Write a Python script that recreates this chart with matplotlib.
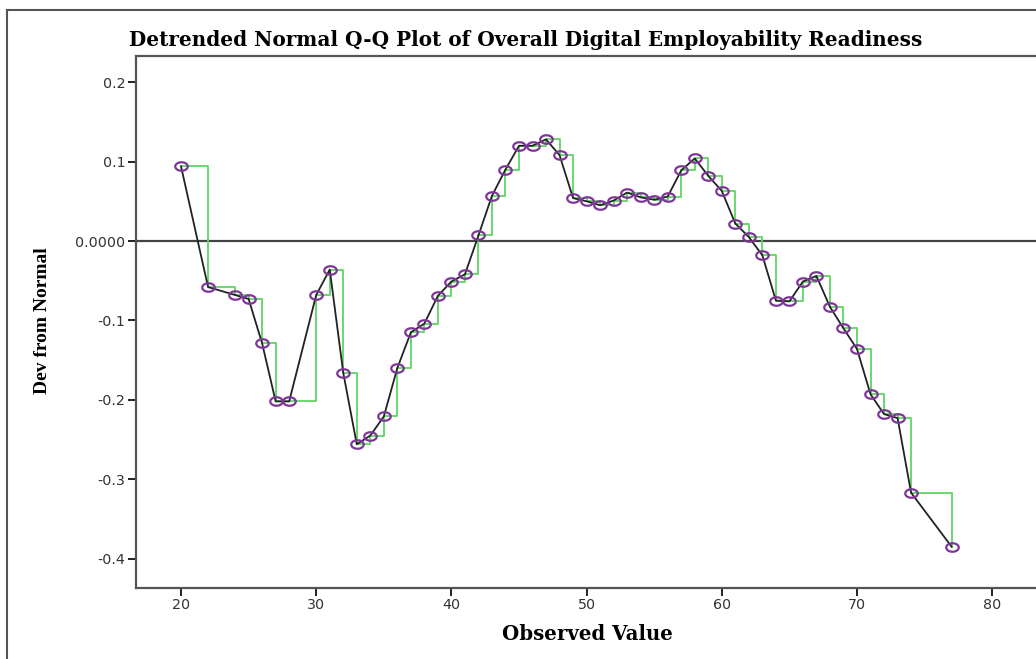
import numpy as np
import matplotlib
matplotlib.use("Agg")
import matplotlib.pyplot as plt
from matplotlib.path import Path
from matplotlib.lines import Line2D

# Observed values and their deviation from the normal expectation
observed = [20, 22, 24, 25, 26, 27, 28, 30, 31, 32, 33, 34, 35, 36, 37, 38, 39,
            40, 41, 42, 43, 44, 45, 46, 47, 48, 49, 50, 51, 52, 53, 54, 55, 56,
            57, 58, 59, 60, 61, 62, 63, 64, 65, 66, 67, 68, 69, 70, 71, 72, 73,
            74, 77]
deviation = [0.094, -0.058, -0.068, -0.073, -0.129, -0.202, -0.202, -0.068,
             -0.036, -0.166, -0.256, -0.245, -0.221, -0.160, -0.115, -0.104,
             -0.069, -0.051, -0.042, 0.007, 0.057, 0.090, 0.120, 0.120, 0.128,
             0.108, 0.054, 0.050, 0.045, 0.051, 0.061, 0.055, 0.052, 0.056,
             0.089, 0.104, 0.082, 0.063, 0.022, 0.005, -0.018, -0.075, -0.076,
             -0.051, -0.044, -0.083, -0.110, -0.136, -0.193, -0.218, -0.223,
             -0.317, -0.385]

x_ticks = [20, 30, 40, 50, 60, 70, 80]
y_ticks = [0.2, 0.1, 0.0, -0.1, -0.2, -0.3, -0.4]
y_tick_labels = ["0.2", "0.1", "0.0000", "-0.1", "-0.2", "-0.3", "-0.4"]

title = "Detrended Normal Q-Q Plot of Overall Digital Employability Readiness"
x_label = "Observed Value"
y_label = "Dev from Normal"

W, H = 1036, 659
fig = plt.figure(figsize=(W / 100, H / 100), dpi=100)
fig.patch.set_facecolor("white")

# axes box in pixel terms
left, right, top, bottom = 136, 1036, 56, 588
ax = fig.add_axes([left / W, 1 - bottom / H, (right - left) / W, (bottom - top) / H])

# open ellipse marker
t = np.linspace(0, 2 * np.pi, 40)
ellipse = Path(np.column_stack([np.cos(t), 0.68 * np.sin(t)]), closed=True)

ax.axhline(0, color="#444444", lw=1.6, zorder=1)
ax.plot(observed, deviation, drawstyle="steps-post", color="#5fd463", lw=1.3, zorder=2)
ax.plot(observed, deviation, color="#222222", lw=1.3, zorder=3)
ax.plot(observed, deviation, linestyle="none", marker=ellipse, markersize=9,
        markerfacecolor="none", markeredgecolor="#7e3598", markeredgewidth=1.6, zorder=4)

ax.set_xlim(16.67, 83.24)
ax.set_ylim(-0.437, 0.233)
ax.set_xticks(x_ticks)
ax.set_yticks(y_ticks)
ax.set_yticklabels(y_tick_labels)
ax.tick_params(direction="out", length=6, width=1.4, color="#222222",
               labelsize=10.3, labelcolor="#333333", pad=1.5)
for lab in ax.get_xticklabels() + ax.get_yticklabels():
    lab.set_family("DejaVu Sans")

for side in ("left", "bottom", "top"):
    ax.spines[side].set_color("#555555")
    ax.spines[side].set_linewidth(1.6)
ax.spines["right"].set_visible(False)

fig.text(526 / W, 1 - 40 / H, title, ha="center", va="center",
         family="DejaVu Serif", fontweight="bold", fontsize=14.4)
fig.text(587 / W, 1 - 634 / H, x_label, ha="center", va="center",
         family="DejaVu Serif", fontweight="bold", fontsize=14.2)
fig.text(43 / W, 1 - 321 / H, y_label, ha="center", va="center", rotation=90,
         family="Liberation Serif", fontweight="bold", fontsize=14)

# outer frame
fig.add_artist(Line2D([7 / W, 7 / W], [0, 1 - 10 / H], transform=fig.transFigure,
                      color="#555555", lw=1.5))
fig.add_artist(Line2D([7 / W, 1], [1 - 10 / H, 1 - 10 / H], transform=fig.transFigure,
                      color="#555555", lw=1.5))

fig.savefig("out.png", dpi=100)
